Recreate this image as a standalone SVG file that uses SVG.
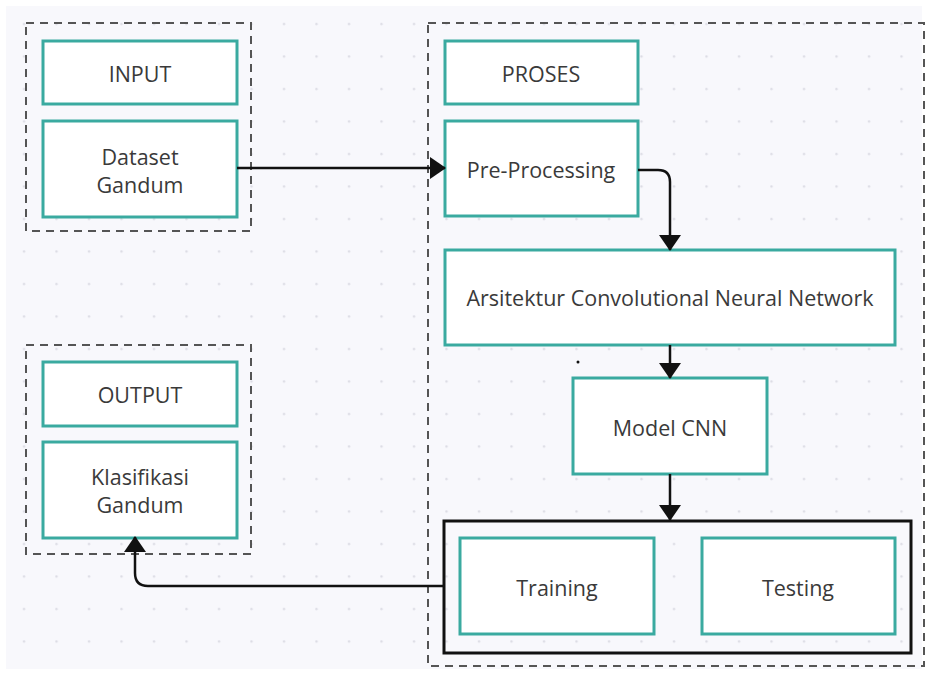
<svg xmlns="http://www.w3.org/2000/svg" width="928" height="675" viewBox="0 0 928 675">
<defs>
<pattern id="dots" x="8" y="8" width="32.5" height="32.5" patternUnits="userSpaceOnUse">
<circle cx="16" cy="16" r="1.2" fill="#dcdce4"/>
</pattern>
<marker id="ah" viewBox="0 0 16 22" refX="15" refY="11" markerWidth="16" markerHeight="22" markerUnits="userSpaceOnUse" orient="auto">
<path d="M0,0 L16,11 L0,22 Z" fill="#111"/>
</marker>
</defs>
<style>
.grp{fill:none;stroke:#555;stroke-width:2;stroke-dasharray:8 6}
.box{fill:#fff;stroke:#3aaaa0;stroke-width:3}
.t{font-family:"Open Sans","Noto Sans",sans-serif;font-size:21.5px;fill:#3a3a3a;text-anchor:middle;dominant-baseline:central}
.conn{fill:none;stroke:#111;stroke-width:2.5}
</style>
<rect x="0" y="0" width="928" height="675" fill="#ffffff"/>
<rect x="6" y="6" width="916" height="663" fill="#f8f8fc"/>
<rect x="6" y="6" width="916" height="663" fill="url(#dots)"/>

<g id="group-input">
<rect class="grp" x="26" y="23" width="225" height="208"/>
</g>
<g id="group-output">
<rect class="grp" x="26" y="345" width="225" height="209"/>
</g>
<g id="group-proses">
<rect class="grp" x="428" y="23" width="496" height="643"/>
</g>

<g id="node-input">
<rect class="box" x="43" y="41" width="194" height="63"/>
<text class="t" x="140" y="73">INPUT</text>
</g>
<g id="node-dataset">
<rect class="box" x="43" y="121" width="194" height="96"/>
<text class="t" x="140" y="156">Dataset</text>
<text class="t" x="140" y="184">Gandum</text>
</g>
<g id="node-proses">
<rect class="box" x="445" y="41" width="193" height="63"/>
<text class="t" x="541" y="73">PROSES</text>
</g>
<g id="node-preprocessing">
<rect class="box" x="445" y="121" width="193" height="95"/>
<text class="t" x="541" y="169">Pre-Processing</text>
</g>
<g id="node-arsitektur">
<rect class="box" x="445" y="250" width="450" height="95"/>
<text class="t" x="670" y="297">Arsitektur Convolutional Neural Network</text>
</g>
<g id="node-model">
<rect class="box" x="573" y="378" width="194" height="96"/>
<text class="t" x="670" y="427">Model CNN</text>
</g>
<g id="node-traintest">
<rect x="444" y="521" width="467" height="132" fill="none" stroke="#111" stroke-width="3"/>
</g>
<g id="node-training">
<rect class="box" x="460" y="538" width="194" height="96"/>
<text class="t" x="557" y="587">Training</text>
</g>
<g id="node-testing">
<rect class="box" x="702" y="538" width="193" height="96"/>
<text class="t" x="798" y="587">Testing</text>
</g>
<g id="node-outputlabel">
<rect class="box" x="43" y="362" width="194" height="64"/>
<text class="t" x="140" y="394">OUTPUT</text>
</g>
<g id="node-klasifikasi">
<rect class="box" x="43" y="442" width="194" height="96"/>
<text class="t" x="140" y="476">Klasifikasi</text>
<text class="t" x="140" y="504">Gandum</text>
</g>
<circle cx="578" cy="362" r="1.5" fill="#111"/>

<g id="connectors">
<path class="conn" d="M237,168 L445,168" marker-end="url(#ah)"/>
<path class="conn" d="M638,170 L658,170 Q670,170 670,182 L670,250" marker-end="url(#ah)"/>
<path class="conn" d="M670,345 L670,378" marker-end="url(#ah)"/>
<path class="conn" d="M670,474 L670,520" marker-end="url(#ah)"/>
<path class="conn" d="M444,586 L148,586 Q135,586 135,573 L135,537" marker-end="url(#ah)"/>
</g>
</svg>
